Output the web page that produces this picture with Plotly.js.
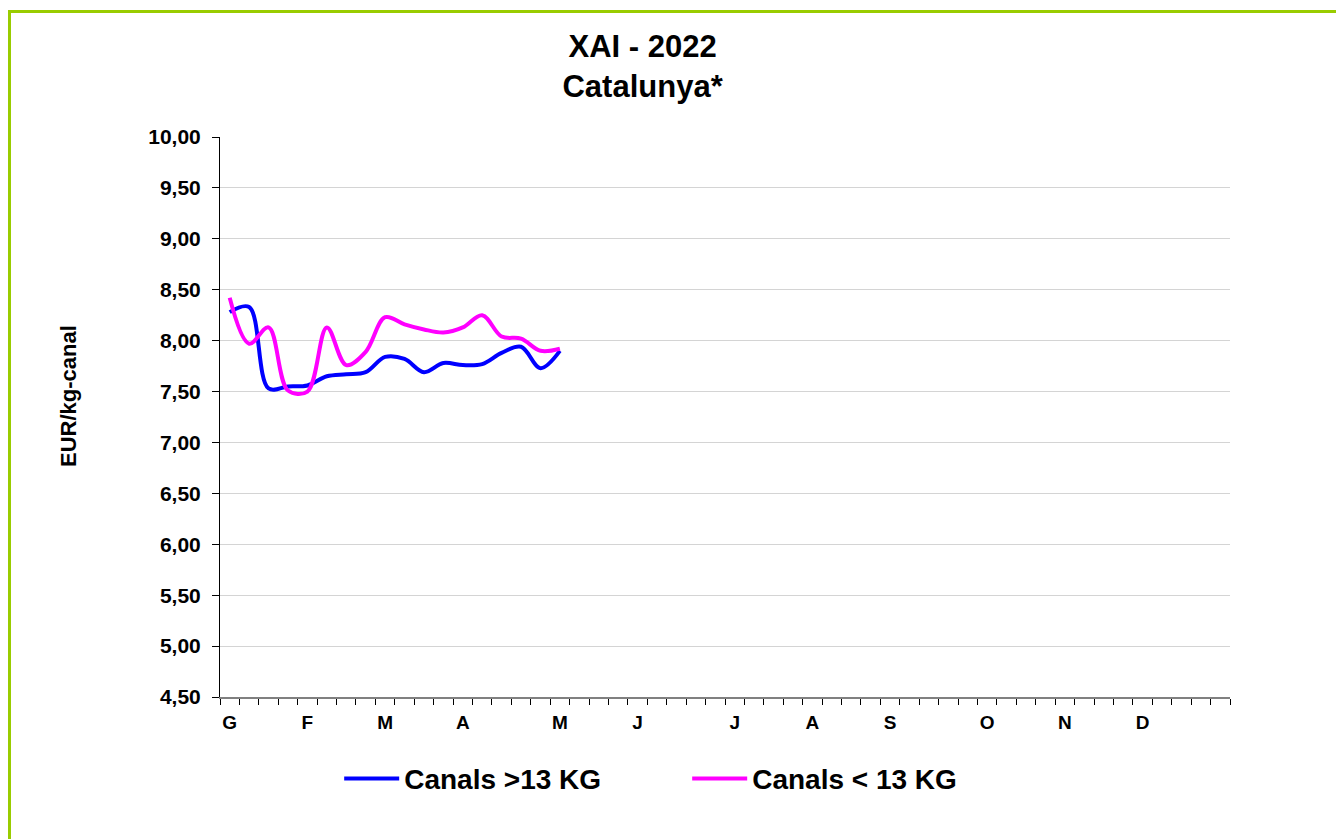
<!DOCTYPE html>
<html>
<head>
<meta charset="utf-8">
<script src="https://cdn.plot.ly/plotly-3.0.1.min.js"></script>
<style>
  html, body { margin: 0; padding: 0; background: #ffffff; }
  #chart { position: absolute; left: 0; top: 0; width: 1336px; height: 839px; }
  #frame { position: absolute; left: 8px; top: 10px; width: 1400px; height: 900px;
           border-top: 3px solid #99cc00; border-left: 3px solid #99cc00;
           pointer-events: none; z-index: 10; }
</style>
</head>
<body>
<div id="chart"></div>
<div id="frame"></div>
<script>
// Week index (0 = first week of January) for the weekly observations
const weeks = [0, 1, 2, 3, 4, 5, 6, 7, 8, 9, 10, 11, 12, 13, 14, 15, 16, 17];

// EUR/kg-canal
const canalsOver13 = [8.28, 8.33, 7.53, 7.55, 7.56, 7.65, 7.67, 7.69, 7.84, 7.82, 7.69, 7.78, 7.76, 7.77, 7.88, 7.94, 7.73, 7.90];
const canalsUnder13 = [8.42, 7.97, 8.13, 7.51, 7.50, 8.13, 7.76, 7.89, 8.23, 8.16, 8.11, 8.08, 8.13, 8.25, 8.04, 8.02, 7.90, 7.92];

// Month labels and the week they sit on
const monthLabels = ['G', 'F', 'M', 'A', 'M', 'J', 'J', 'A', 'S', 'O', 'N', 'D'];
const monthWeeks = [0, 4, 8, 12, 17, 21, 26, 30, 34, 39, 43, 47];
const weekCount = 52;

const FONT = '"Liberation Sans", Arial, sans-serif';

const traces = [
  {
    x: weeks, y: canalsOver13, name: 'Canals >13 KG', type: 'scatter', mode: 'lines',
    line: { color: '#0000ff', width: 4, shape: 'spline', smoothing: 1 }
  },
  {
    x: weeks, y: canalsUnder13, name: 'Canals < 13 KG', type: 'scatter', mode: 'lines',
    line: { color: '#ff00ff', width: 4, shape: 'spline', smoothing: 1 }
  }
];

const layout = {
  width: 1336, height: 839,
  paper_bgcolor: '#ffffff', plot_bgcolor: '#ffffff',
  separators: ',.',
  font: { family: FONT, color: '#000000' },
  margin: { l: 220, r: 106, t: 137, b: 142 },
  title: {
    text: 'XAI - 2022<br>Catalunya*',
    font: { family: FONT, size: 31, weight: 'bold', color: '#000000' },
    xref: 'container', x: 0.481, xanchor: 'center',
    yref: 'container', y: 1 - 57 / 839, yanchor: 'top'
  },
  xaxis: {
    type: 'linear',
    range: [-0.5, weekCount - 0.5],
    tickmode: 'array', tickvals: monthWeeks, ticktext: monthLabels,
    ticks: 'outside', ticklen: 7, tickcolor: 'rgba(0,0,0,0)',
    tickfont: { family: FONT, size: 19, weight: 'bold', color: '#000000' },
    showgrid: false, zeroline: false,
    showline: true, linecolor: '#808080', linewidth: 2,
    minor: { tick0: -0.5, dtick: 1, ticks: 'outside', ticklen: 6, tickcolor: '#000000', tickwidth: 1, showgrid: false },
    fixedrange: true
  },
  yaxis: {
    range: [4.5, 10],
    tickmode: 'linear', tick0: 4.5, dtick: 0.5,
    tickformat: '.2f',
    ticks: 'outside', ticklen: 7, tickcolor: '#000000', tickwidth: 1,
    ticklabelstandoff: 7,
    tickfont: { family: FONT, size: 21, weight: 'bold', color: '#000000' },
    showgrid: true, gridcolor: '#d4d4d4', gridwidth: 1,
    zeroline: false,
    showline: true, linecolor: '#000000', linewidth: 1,
    automargin: false,
    fixedrange: true
  },
  annotations: [
    {
      text: 'EUR/kg-canal', textangle: -90, showarrow: false,
      xref: 'paper', yref: 'paper',
      x: (68 - 220) / 1010, y: (697 - 396) / 560,
      xanchor: 'center', yanchor: 'middle',
      font: { family: FONT, size: 22, weight: 'bold', color: '#000000' }
    }
  ],
  showlegend: true,
  legend: {
    orientation: 'h',
    x: 0.118, xanchor: 'left',
    y: -0.146, yanchor: 'middle',
    itemwidth: 55,
    font: { family: FONT, size: 28, weight: 'bold', color: '#000000' },
    entrywidth: 278, entrywidthmode: 'pixels',
    bgcolor: 'rgba(0,0,0,0)'
  }
};

Plotly.newPlot('chart', traces, layout, { displayModeBar: false, staticPlot: true });
</script>
</body>
</html>
